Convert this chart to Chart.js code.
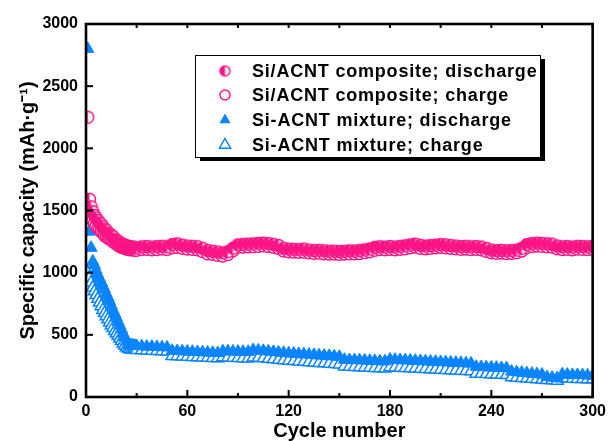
<!DOCTYPE html>
<html>
<head>
<meta charset="utf-8">
<script src="https://cdn.jsdelivr.net/npm/chart.js@4.4.0/dist/chart.umd.min.js"></script>
<style>
  html, body { margin: 0; padding: 0; background: #fff; }
  #wrap { width: 611px; height: 441px; }
</style>
</head>
<body>
<div id="wrap"><canvas id="chart" width="611" height="441"></canvas></div>
<script>
// cycle numbers (every cycle at the start, then every third cycle)
const cycles = [
  1, 2, 3, 4, 5, 6, 7, 8, 9, 10, 11, 12, 13, 14, 15, 16, 17, 18, 19, 20, 21, 22, 23, 24, 25, 26, 27, 28, 29, 30,
  33, 36, 39, 42, 45, 48, 51, 54, 57, 60,
  63, 66, 69, 72, 75, 78, 81, 84, 87, 90,
  93, 96, 99, 102, 105, 108, 111, 114, 117, 120,
  123, 126, 129, 132, 135, 138, 141, 144, 147, 150,
  153, 156, 159, 162, 165, 168, 171, 174, 177, 180,
  183, 186, 189, 192, 195, 198, 201, 204, 207, 210,
  213, 216, 219, 222, 225, 228, 231, 234, 237, 240,
  243, 246, 249, 252, 255, 258, 261, 264, 267, 270,
  273, 276, 279, 282, 285, 288, 291, 294, 297, 300
];

// Si/ACNT composite, discharge (mAh/g)
const compDischarge = [
  2250, 1590, 1530, 1490, 1460, 1440, 1420, 1400, 1390, 1370, 1350, 1340, 1320, 1310, 1300,
  1290, 1270, 1260, 1250, 1240, 1230, 1230, 1220, 1215, 1210, 1210, 1205, 1205, 1200, 1200,
  1208, 1210, 1206, 1210, 1212, 1208, 1226, 1232, 1222, 1214,
  1212, 1208, 1196, 1178, 1172, 1166, 1160, 1168, 1196, 1224,
  1228, 1230, 1232, 1236, 1238, 1234, 1228, 1218, 1196, 1190,
  1188, 1186, 1190, 1182, 1178, 1180, 1176, 1172, 1174, 1170,
  1172, 1176, 1174, 1178, 1184, 1190, 1204, 1208, 1206, 1210,
  1206, 1212, 1216, 1224, 1230, 1220, 1214, 1218, 1222, 1226,
  1224, 1218, 1214, 1210, 1212, 1208, 1210, 1206, 1196, 1182,
  1178, 1180, 1176, 1178, 1182, 1196, 1226, 1234, 1238, 1236,
  1232, 1230, 1214, 1208, 1210, 1206, 1212, 1210, 1208, 1212
];

// Si/ACNT composite, charge
const compCharge = [
  1560, 1480, 1450, 1420, 1400, 1380, 1360, 1350, 1330, 1320, 1300, 1290, 1280, 1270, 1260,
  1250, 1240, 1230, 1220, 1210, 1205, 1200, 1195, 1190, 1190, 1185, 1185, 1185, 1180, 1180,
  1186, 1188, 1184, 1186, 1190, 1186, 1200, 1204, 1196, 1190,
  1188, 1184, 1170, 1152, 1148, 1140, 1134, 1146, 1176, 1204,
  1206, 1208, 1210, 1212, 1216, 1210, 1204, 1196, 1174, 1168,
  1166, 1164, 1166, 1160, 1156, 1158, 1152, 1150, 1150, 1148,
  1150, 1152, 1152, 1154, 1162, 1168, 1180, 1186, 1184, 1188,
  1184, 1188, 1192, 1200, 1206, 1196, 1192, 1196, 1200, 1204,
  1200, 1196, 1192, 1188, 1190, 1186, 1188, 1184, 1172, 1160,
  1156, 1158, 1154, 1156, 1160, 1174, 1202, 1210, 1214, 1212,
  1208, 1206, 1192, 1186, 1188, 1184, 1190, 1188, 1186, 1190
];

// Si-ACNT mixture, discharge
const mixDischarge = [
  2800, 1330, 1200, 1090, 1060, 1020, 985, 955, 925, 895, 865, 830, 800, 770, 735,
  700, 670, 640, 605, 575, 545, 510, 480, 450, 425, 418, 416, 414, 412, 410,
  408, 406, 405, 403, 401, 399, 372, 370, 368, 366,
  364, 362, 360, 358, 356, 354, 368, 367, 366, 365,
  364, 363, 378, 375, 371, 367, 363, 359, 355, 352,
  349, 346, 344, 342, 339, 336, 333, 330, 327, 324,
  300, 298, 297, 296, 294, 292, 290, 288, 287, 302,
  300, 298, 296, 294, 292, 290, 288, 286, 284, 282,
  280, 278, 276, 274, 272, 270, 244, 242, 240, 238,
  236, 234, 232, 205, 200, 196, 192, 188, 184, 180,
  160, 156, 152, 182, 180, 178, 177, 176, 174, 172
];

// Si-ACNT mixture, charge
const mixCharge = [
  1000, 960, 920, 880, 850, 820, 790, 760, 730, 700, 675, 650, 625, 600, 575,
  555, 530, 510, 490, 470, 450, 430, 415, 400, 390, 385, 383, 382, 380, 378,
  376, 374, 372, 370, 368, 366, 330, 328, 326, 324,
  322, 320, 318, 316, 314, 312, 320, 318, 316, 314,
  312, 310, 318, 315, 311, 307, 303, 299, 295, 292,
  289, 286, 283, 280, 277, 274, 271, 268, 265, 262,
  246, 244, 242, 240, 238, 236, 234, 232, 230, 240,
  238, 236, 234, 232, 230, 228, 226, 224, 222, 220,
  218, 216, 214, 212, 210, 208, 188, 186, 184, 182,
  180, 178, 176, 158, 155, 152, 149, 146, 143, 140,
  137, 134, 131, 150, 148, 146, 145, 144, 143, 142
];

const seriesLabels = [
  'Si/ACNT composite; discharge',
  'Si/ACNT composite; charge',
  'Si-ACNT mixture; discharge',
  'Si-ACNT mixture; charge'
];
const xTicks = [0, 60, 120, 180, 240, 300];
const yTicks = [0, 500, 1000, 1500, 2000, 2500, 3000];

const PINK = '#FA1485';
const BLUE = '#0A84FF';
const FONT = '"Liberation Sans", Arial, Helvetica, sans-serif';

// circle with the left half filled, used as a point style
function halfCircle(r, color) {
  const size = Math.ceil(r * 2 + 3);
  const c = document.createElement('canvas');
  c.width = size; c.height = size;
  const g = c.getContext('2d');
  const m = size / 2;
  g.fillStyle = '#fff';
  g.beginPath(); g.arc(m, m, r, 0, Math.PI * 2); g.fill();
  g.fillStyle = color;
  g.beginPath(); g.arc(m, m, r, Math.PI / 2, Math.PI * 1.5); g.closePath(); g.fill();
  g.strokeStyle = color; g.lineWidth = 1.5;
  g.beginPath(); g.arc(m, m, r, 0, Math.PI * 2); g.stroke();
  return c;
}

const toPoints = arr => cycles.map((c, i) => ({ x: c, y: arr[i] }));

// frame and inward ticks, drawn from the scales
const framePlugin = {
  id: 'frame',
  afterDatasetsDraw(chart) {
    const { ctx, chartArea: a, scales } = chart;
    ctx.save();
    ctx.strokeStyle = '#000';
    ctx.lineWidth = 2;
    for (let v = 0; v <= 300; v += 30) {
      const px = scales.x.getPixelForValue(v);
      const major = v % 60 === 0;
      ctx.beginPath();
      ctx.moveTo(px, a.bottom); ctx.lineTo(px, a.bottom - (major ? 7 : 4));
      ctx.moveTo(px, a.top); ctx.lineTo(px, a.top + 4);
      ctx.stroke();
    }
    yTicks.forEach(v => {
      const py = scales.y.getPixelForValue(v);
      ctx.beginPath();
      ctx.moveTo(a.left, py); ctx.lineTo(a.left + 7, py);
      ctx.stroke();
    });
    ctx.lineWidth = 2.6;
    ctx.strokeRect(a.left, a.top, a.right - a.left, a.bottom - a.top);
    ctx.restore();
  }
};

// boxed legend with drop shadow
const legendPlugin = {
  id: 'boxLegend',
  afterDraw(chart) {
    const ctx = chart.ctx;
    const box = { x: 195, y: 55, w: 345, h: 102 };
    ctx.save();
    ctx.fillStyle = '#000';
    ctx.fillRect(box.x + 5, box.y + 4, box.w, box.h);
    ctx.fillStyle = '#fff';
    ctx.fillRect(box.x, box.y, box.w, box.h);
    ctx.strokeStyle = '#000';
    ctx.lineWidth = 1;
    ctx.strokeRect(box.x + 0.5, box.y + 0.5, box.w, box.h);

    const rows = [71, 95, 120, 145];
    const mx = 225;
    const legendHalf = halfCircle(5, PINK);
    rows.forEach((ry, i) => {
      ctx.lineWidth = 1.5;
      if (i === 0) {
        ctx.drawImage(legendHalf, mx - legendHalf.width / 2, ry - legendHalf.height / 2);
      } else if (i === 1) {
        ctx.strokeStyle = PINK;
        ctx.beginPath(); ctx.arc(mx, ry, 5, 0, Math.PI * 2); ctx.stroke();
      } else {
        const r = 6.5;
        ctx.beginPath();
        ctx.moveTo(mx, ry - r);
        ctx.lineTo(mx + r * 0.866, ry + r / 2);
        ctx.lineTo(mx - r * 0.866, ry + r / 2);
        ctx.closePath();
        if (i === 2) { ctx.fillStyle = BLUE; ctx.fill(); }
        else { ctx.strokeStyle = BLUE; ctx.stroke(); }
      }
      ctx.fillStyle = '#000';
      ctx.font = 'bold 18px ' + FONT;
      ctx.letterSpacing = '0.8px';
      ctx.textBaseline = 'middle';
      ctx.textAlign = 'left';
      ctx.fillText(seriesLabels[i], 252, ry + 1);
    });
    ctx.restore();
  }
};

const datasets = [
  {
    label: seriesLabels[0], data: toPoints(compDischarge),
    pointStyle: halfCircle(6, PINK), pointRadius: 6
  },
  {
    label: seriesLabels[1], data: toPoints(compCharge),
    pointStyle: 'circle', pointRadius: 6, pointBorderWidth: 1.5,
    pointBorderColor: PINK, pointBackgroundColor: '#fff'
  },
  {
    label: seriesLabels[2], data: toPoints(mixDischarge),
    pointStyle: 'triangle', pointRadius: 7, pointBorderWidth: 1,
    pointBorderColor: BLUE, pointBackgroundColor: BLUE
  },
  {
    label: seriesLabels[3], data: toPoints(mixCharge),
    pointStyle: 'triangle', pointRadius: 7, pointBorderWidth: 1.5,
    pointBorderColor: BLUE, pointBackgroundColor: '#fff'
  }
].map(d => Object.assign({ showLine: false, clip: 0 }, d));

const tickFont = { family: FONT, size: 16, weight: 'bold' };

new Chart(document.getElementById('chart'), {
  type: 'scatter',
  data: { datasets },
  options: {
    responsive: false,
    animation: false,
    events: [],
    layout: { padding: { top: 24, right: 14, bottom: 0, left: 0 } },
    plugins: { legend: { display: false }, tooltip: { enabled: false } },
    scales: {
      x: {
        type: 'linear', min: 0, max: 300,
        afterFit: s => { s.height = 44; },
        afterBuildTicks: s => { s.ticks = xTicks.map(v => ({ value: v })); },
        grid: { display: false, drawTicks: false },
        border: { display: false },
        ticks: { padding: 5, color: '#000', font: tickFont, callback: v => String(v) },
        title: {
          display: true, text: 'Cycle number', color: '#000', padding: 0,
          font: { family: FONT, size: 20, weight: 'bold', lineHeight: 1 }
        }
      },
      y: {
        type: 'linear', min: 0, max: 3000,
        afterFit: s => { s.width = 86; },
        afterBuildTicks: s => { s.ticks = yTicks.map(v => ({ value: v })); },
        grid: { display: false, drawTicks: false },
        border: { display: false },
        ticks: { padding: 8, color: '#000', font: tickFont, callback: v => String(v) },
        title: {
          display: true, text: 'Specific capacity (mAh·g⁻¹)', color: '#000',
          padding: { top: 18, bottom: 0 },
          font: { family: FONT, size: 20, weight: 'bold', lineHeight: 1 }
        }
      }
    }
  },
  plugins: [framePlugin, legendPlugin]
});
</script>
</body>
</html>
